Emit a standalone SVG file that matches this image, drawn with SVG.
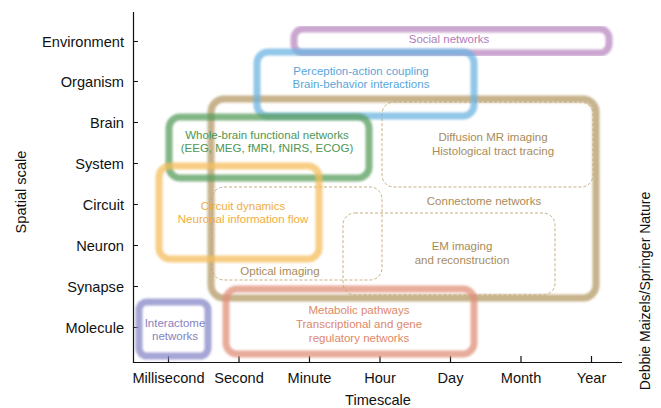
<svg xmlns="http://www.w3.org/2000/svg" width="661" height="408" viewBox="0 0 661 408">
<defs>
<filter id="soft" x="-10%" y="-10%" width="120%" height="120%"><feGaussianBlur stdDeviation="1.3"/></filter>
</defs>
<style>
text{font-family:"Liberation Sans",Arial,sans-serif}
.ax{font-size:14.6px;fill:#111}
.yl{text-anchor:end}
.xl{text-anchor:middle}
.bt{font-size:11.5px;text-anchor:middle}
.box{fill:none;stroke-width:7;filter:url(#soft);stroke-opacity:0.75}
.dash{fill:none;stroke:#c2a675;stroke-width:0.9;stroke-dasharray:3 2}
.axis{stroke:#111;stroke-width:1.2;fill:none}
</style>
<rect width="661" height="408" fill="#fff"/>
<g id="axes">
<path class="axis" d="M133.5 12V362.5H622"/>
<path class="axis" d="M133 41.5h5M133 81.5h5M133 122.5h5M133 163.5h5M133 204.5h5M133 245.5h5M133 286.5h5M133 327.5h5"/>
<path class="axis" d="M168.5 362v-6M239 362v-6M309.5 362v-6M380 362v-6M450.5 362v-6M521 362v-6M591.5 362v-6"/>
<text class="ax yl" x="124" y="46.5">Environment</text>
<text class="ax yl" x="124" y="86.5">Organism</text>
<text class="ax yl" x="124" y="127.5">Brain</text>
<text class="ax yl" x="124" y="168.5">System</text>
<text class="ax yl" x="124" y="209.5">Circuit</text>
<text class="ax yl" x="124" y="250.5">Neuron</text>
<text class="ax yl" x="124" y="291.5">Synapse</text>
<text class="ax yl" x="124" y="332.5">Molecule</text>
<text class="ax xl" x="168.5" y="383">Millisecond</text>
<text class="ax xl" x="239" y="383">Second</text>
<text class="ax xl" x="309.5" y="383">Minute</text>
<text class="ax xl" x="380" y="383">Hour</text>
<text class="ax xl" x="450.5" y="383">Day</text>
<text class="ax xl" x="521" y="383">Month</text>
<text class="ax xl" x="591.5" y="383">Year</text>
<text class="ax xl" x="378" y="405">Timescale</text>
<text class="ax xl" transform="translate(26 192) rotate(-90)">Spatial scale</text>
<text class="ax xl" style="font-size:14px" transform="translate(650 291) rotate(-90)">Debbie Maizels/Springer Nature</text>
</g>
<g id="connectome">
<rect class="box" x="211" y="99" width="385" height="199" rx="13" stroke="#b49a66"/>
<text class="bt" x="484" y="205" fill="#a88c58">Connectome networks</text>
</g>
<g id="diffusion">
<rect class="dash" x="382" y="102" width="211" height="85" rx="12"/>
<text class="bt" x="493" y="141" fill="#a88c58">Diffusion MR imaging</text>
<text class="bt" x="493" y="155" fill="#a88c58">Histological tract tracing</text>
</g>
<g id="optical">
<rect class="dash" x="212" y="187" width="170" height="93" rx="12"/>
<text class="bt" x="280" y="275" fill="#a88c58">Optical imaging</text>
</g>
<g id="em">
<rect class="dash" x="343" y="213" width="212" height="82" rx="12"/>
<text class="bt" x="462" y="250" fill="#a88c58">EM imaging</text>
<text class="bt" x="462" y="264" fill="#a88c58">and reconstruction</text>
</g>
<g id="social">
<rect class="box" x="294" y="29" width="315" height="24" rx="9" stroke="#b888c0"/>
<text class="bt" x="449" y="43" fill="#b07cb8">Social networks</text>
</g>
<g id="perception">
<rect class="box" x="257" y="52" width="217" height="64" rx="11" stroke="#6cb4e0"/>
<text class="bt" x="361" y="75" fill="#5aa6da">Perception-action coupling</text>
<text class="bt" x="361" y="88" fill="#5aa6da">Brain-behavior interactions</text>
</g>
<g id="wholebrain">
<rect class="box" x="169" y="117" width="200" height="61" rx="11" stroke="#5a9e5e"/>
<text class="bt" x="267" y="139" fill="#4e9652">Whole-brain functional networks</text>
<text class="bt" x="267" y="152" fill="#4e9652">(EEG, MEG, fMRI, fNIRS, ECOG)</text>
</g>
<g id="circuit">
<rect class="box" x="159" y="166" width="160" height="93" rx="11" stroke="#f6bd5e"/>
<text class="bt" x="243" y="210" fill="#f0ae3c">Circuit dynamics</text>
<text class="bt" x="243" y="223" fill="#f0ae3c">Neuronal information flow</text>
</g>
<g id="metabolic">
<rect class="box" x="226" y="289" width="248" height="65" rx="11" stroke="#e0907a"/>
<text class="bt" x="359" y="314" fill="#e08868">Metabolic pathways</text>
<text class="bt" x="359" y="328" fill="#e08868">Transcriptional and gene</text>
<text class="bt" x="359" y="342" fill="#e08868">regulatory networks</text>
</g>
<g id="interactome">
<rect class="box" x="139" y="302" width="69" height="54" rx="8" stroke="#8888c8"/>
<text class="bt" x="175" y="327" fill="#8484c2">Interactome</text>
<text class="bt" x="175" y="340" fill="#8484c2">networks</text>
</g>
<g id="connectors"></g>
</svg>
